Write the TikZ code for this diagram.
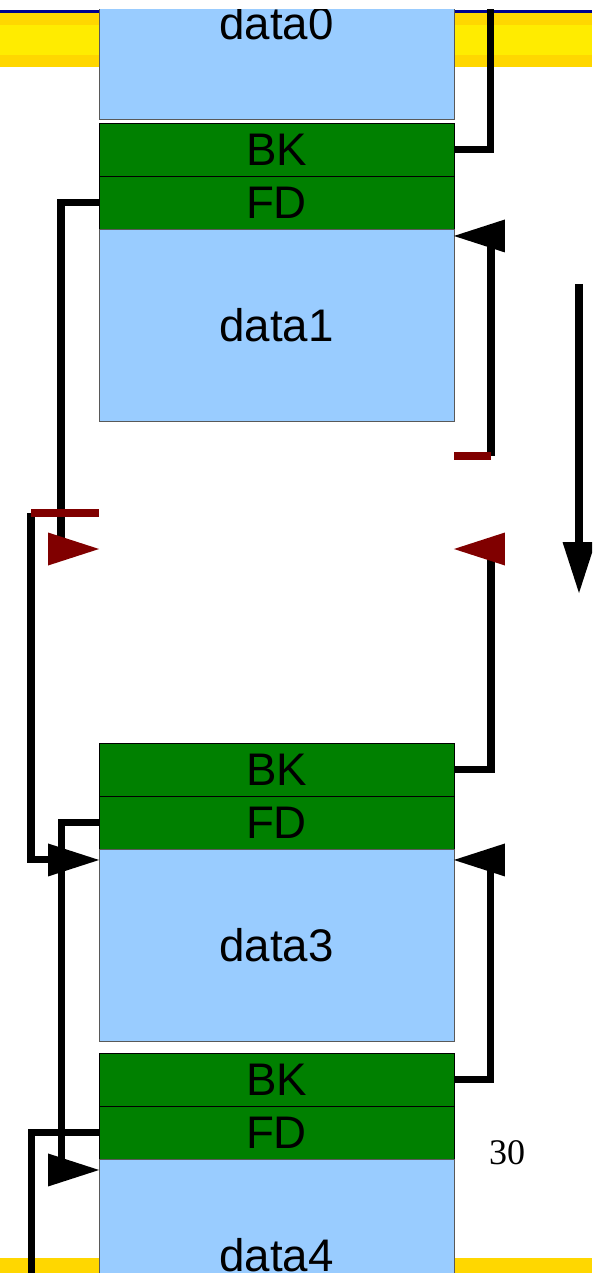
\documentclass[tikz,border=0pt]{standalone}
\usepackage{fontspec}
\setmainfont{Liberation Sans}
\newfontfamily\slidenum{Liberation Serif}
\usepackage{xcolor}
\usetikzlibrary{arrows.meta,calc}

\definecolor{chunkblue}{RGB}{153,204,255}
\definecolor{hdrgreen}{RGB}{0,128,0}
\definecolor{freedred}{RGB}{128,0,0}
\definecolor{bandgold}{RGB}{255,215,0}
\definecolor{bandyellow}{RGB}{255,236,0}
\definecolor{bandnavy}{RGB}{0,0,140}

\begin{document}
\begin{tikzpicture}[x=0.02cm,y=-0.02cm,font=\fontsize{26}{30}\selectfont,
  hdr/.style={draw=black,line width=0.5pt,fill=hdrgreen,minimum width=7.1cm,minimum height=1.06cm,inner sep=0pt,outer sep=0pt},
  body/.style={draw=black!65,line width=0.5pt,fill=chunkblue,minimum width=7.1cm,minimum height=3.84cm,inner sep=0pt,outer sep=0pt},
  link/.style={line width=4pt,black},
  cut/.style={line width=4pt,freedred},
  arrowhd/.style={-{Triangle[length=1.02cm,width=0.66cm,line width=0pt]}}]
\useasboundingbox (0,0) rectangle (592,1273);
\begin{scope}
\clip (0,10) rectangle (592,1273);
% --- slide bands ---
\fill[bandnavy] (0,10) rectangle (592,13);
\fill[bandgold] (0,13) rectangle (592,67);
\fill[bandyellow] (0,25) rectangle (592,55);
\fill[bandgold] (0,1258) rectangle (592,1273);
% --- chunks ---
\node[body] (d0) at (276.5,23) {data0};
\foreach \n/\y in {1/123,3/743,4/1053}{
  \node[hdr,anchor=north] (bk\n) at (276.5,\y) {BK};
  \node[hdr,anchor=north] (fd\n) at (bk\n.south) {FD};
  \node[body,anchor=north] (d\n) at (fd\n.south) {data\n};}
% --- links of chunk 1 ---
\coordinate (c1l) at (61,549);
\coordinate (c1r) at (491,456);
\draw[link] (bk1.east) -- ++(37,0) -- ++(0,-150);
\draw[link] (fd1.west) -| (c1l);
\draw[link,arrowhd] (c1r) |- ([yshift=-0.14cm]d1.north east);
\draw[cut] (c1r) -- (c1r -| d1.east);
\draw[cut,arrowhd] (c1l) -- (c1l -| d1.west);
% --- links of chunk 3 ---
\coordinate (c3l) at (31,513);
\coordinate (c3r) at (491,549);
\draw[link,arrowhd] (c3l) |- ([yshift=-0.22cm]d3.north west);
\draw[cut] (c3l) -- (c3l -| d1.west);
\draw[link] (bk3.east) -| (c3r);
\draw[cut,arrowhd] (c3r) -- (c3r -| d1.east);
\draw[link,arrowhd] (fd3.west) -- ++(-38,0) |- ([yshift=-0.22cm]d4.north west);
% --- links of chunk 4 ---
\draw[link,arrowhd] (bk4.east) -- ++(37,0) |- ([yshift=-0.22cm]d3.north east);
\draw[link] (fd4.west) -- ++(-68,0) -- ++(0,200);
% --- walk direction, page number ---
\coordinate (dtop) at (579,284);
\coordinate (dbot) at (579,593);
\draw[link,arrowhd] (dtop) -- (dbot);
\node[font=\slidenum\fontsize{20.5}{24}\selectfont] (pgno) at (507,1153) {30};
\end{scope}
\end{tikzpicture}
\end{document}
